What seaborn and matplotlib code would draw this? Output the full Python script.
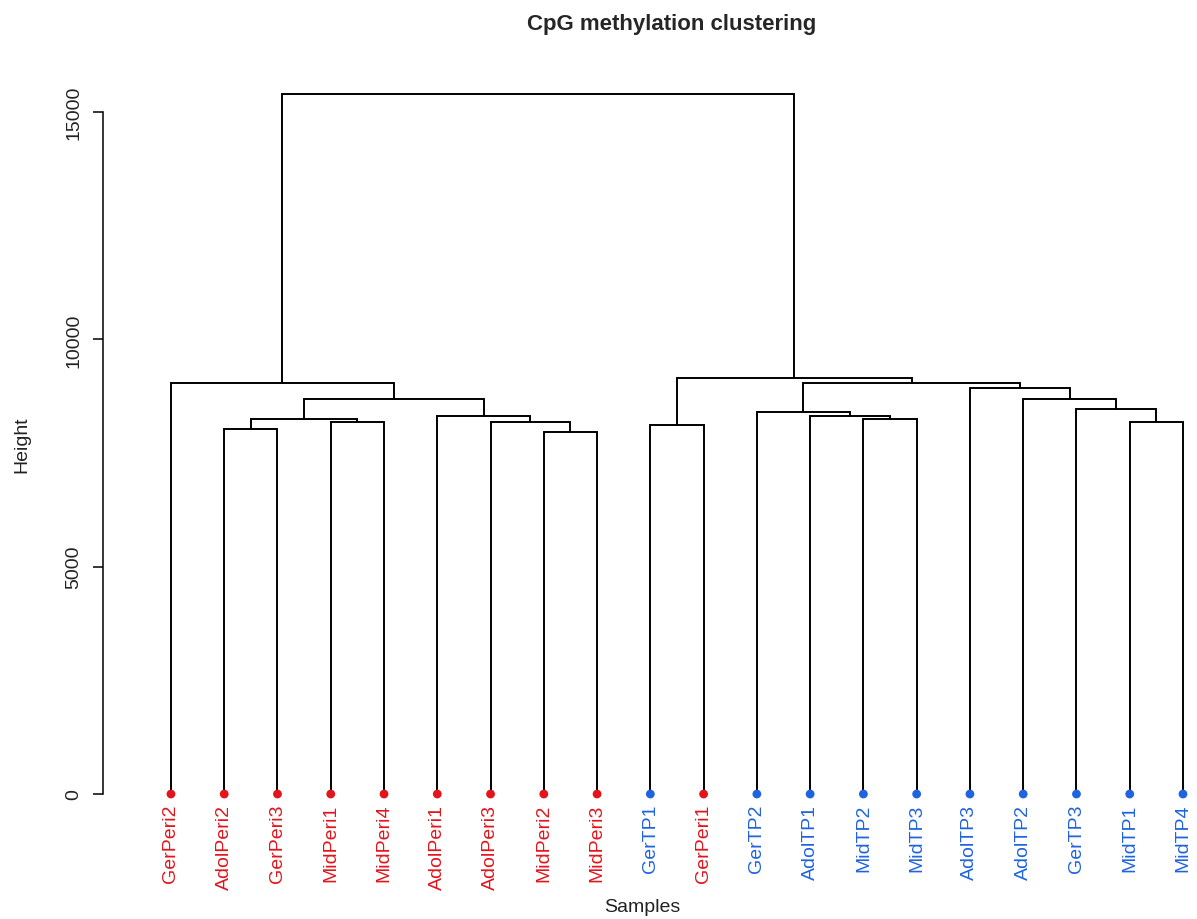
import numpy as np
import pandas as pd
import matplotlib
matplotlib.use("Agg")
import matplotlib.pyplot as plt
import seaborn as sns

# leaves in the order they are drawn
labels = ["GerPeri2", "AdolPeri2", "GerPeri3", "MidPeri1", "MidPeri4",
          "AdolPeri1", "AdolPeri3", "MidPeri2", "MidPeri3", "GerTP1",
          "GerPeri1", "GerTP2", "AdolTP1", "MidTP2", "MidTP3",
          "AdolTP3", "AdolTP2", "GerTP3", "MidTP1", "MidTP4"]
tissue = ["Peri" if "Peri" in s else "TP" for s in labels]

# hclust-style merge table: negative = leaf (1-based), positive = earlier merge
merge_left = [-8, -2, -10, -7, -4, -19, 2, -14, -6, -13, -12, -18, 7, -17, -16, -1, 11, 3, 16]
merge_right = [-9, -3, -11, 1, -5, -20, 5, -15, 4, 8, 10, 6, 9, 12, 14, 13, 15, 17, 18]
merge_height = [7968, 8034, 8115, 8174, 8181, 8181, 8247, 8247, 8320, 8320,
                8401, 8460, 8680, 8680, 8922, 9032, 9032, 9150, 15406]

y_ticks = [0, 5000, 10000, 15000]

colours = {"Peri": "#E3141C", "TP": "#1F63E0"}

sns.set_style("white")
plt.rcParams["font.family"] = ["Liberation Sans", "DejaVu Sans"]

fig = plt.figure(figsize=(11.97, 9.2), dpi=100)
ax = fig.add_axes([0.086, 0.1054, 0.914, 0.8223])

leaf_x = np.arange(1, len(labels) + 1)
node_x, node_h = [], []


def pos(i):
    # x and height of a child in the merge table
    if i < 0:
        return leaf_x[-i - 1], 0.0
    return node_x[i - 1], node_h[i - 1]


for a, b, h in zip(merge_left, merge_right, merge_height):
    xa, ha = pos(a)
    xb, hb = pos(b)
    ax.plot([xa, xa, xb, xb], [ha, h, h, hb], color="black", lw=1.4,
            solid_joinstyle="miter")
    node_x.append((xa + xb) / 2)
    node_h.append(h)

leaves = pd.DataFrame({"x": leaf_x, "y": 0.0, "tissue": tissue})
sns.scatterplot(data=leaves, x="x", y="y", hue="tissue", palette=colours,
                s=40, edgecolor="none", legend=False, ax=ax, zorder=3)

ax.set_xlim(-0.277, 20.263)
ax.set_ylim(-616, 16022)

ax.set_xticks(leaf_x, labels)
ax.tick_params(axis="x", length=0, pad=-13, labelsize=14, labelrotation=90)
for tl, t in zip(ax.get_xticklabels(), tissue):
    tl.set_color(colours[t])

ax.set_yticks(y_ticks, [str(v) for v in y_ticks])
ax.tick_params(axis="y", left=True, length=7, width=1.1, pad=8, color="black",
               labelcolor="#222222", labelsize=14, labelrotation=90)
plt.setp(ax.get_yticklabels(), va="center")

for side in ["top", "right", "bottom"]:
    ax.spines[side].set_visible(False)
ax.spines["left"].set_bounds(0, 15000)
ax.spines["left"].set_color("black")
ax.spines["left"].set_linewidth(1.1)

ax.set_xlabel("Samples", fontsize=14, color="#222222")
ax.xaxis.set_label_coords(0.4927, -0.111)
ax.xaxis.label.set_va("center")
ax.set_ylabel("Height", fontsize=14, color="#222222")
ax.yaxis.set_label_coords(-0.074, 0.5)
ax.yaxis.label.set_va("center")

ax.set_title("CpG methylation clustering", fontsize=16, fontweight="bold",
             x=0.52, y=1.048, pad=0)

fig.savefig("out.png", dpi=100)
